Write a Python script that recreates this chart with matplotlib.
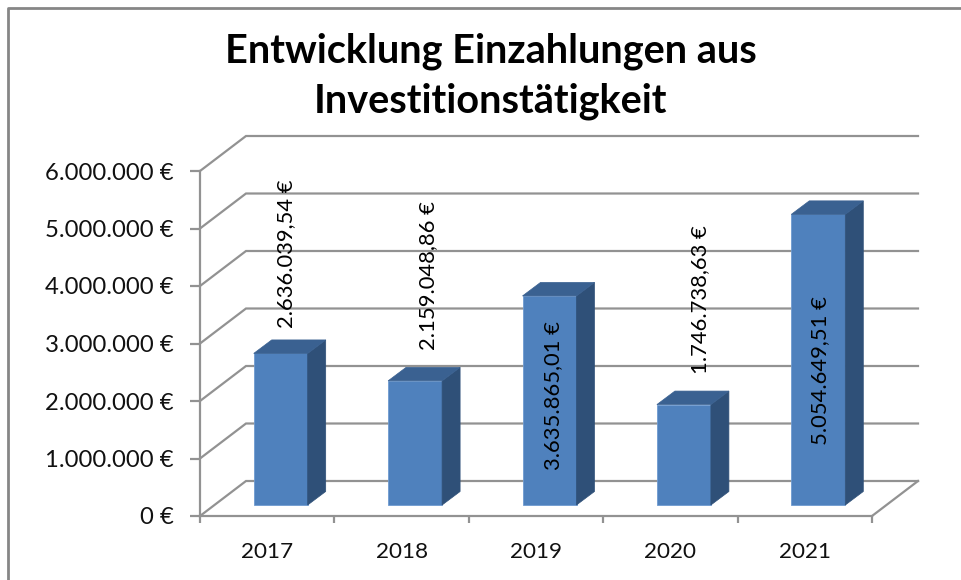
import matplotlib
matplotlib.use("Agg")
import matplotlib.pyplot as plt
from matplotlib.lines import Line2D
import numpy as np

# werte aus dem bild
jahre = ["2017", "2018", "2019", "2020", "2021"]
einzahlungen = [2636039.54, 2159048.86, 3635865.01, 1746738.63, 5054649.51]
bar_labels = ["2.636.039,54 €", "2.159.048,86 €", "3.635.865,01 €", "1.746.738,63 €", "5.054.649,51 €"]
y_ticks = [0, 1000000, 2000000, 3000000, 4000000, 5000000, 6000000]
y_tick_labels = ["0 €", "1.000.000 €", "2.000.000 €", "3.000.000 €", "4.000.000 €", "5.000.000 €", "6.000.000 €"]
titel = "Entwicklung Einzahlungen aus\nInvestitionstätigkeit"

plt.rcParams["font.family"] = ["Lato", "DejaVu Sans"]
grau = "#929292"

W, H = 962, 580
fig = plt.figure(figsize=(W / 100, H / 100), dpi=100)
ax = fig.add_axes([200 / W, (H - 516) / H, 672 / W, 345 / H])
ax.set_xlim(0, len(jahre))
ax.set_ylim(0, 6000000)
ax.patch.set_visible(False)

# 3d-versatz in datenwerten
px_x = len(jahre) / 672
px_y = 6000000 / 345
wand_dx, wand_dy = 46 * px_x, 35 * px_y
tiefe_dx, tiefe_dy = 18 * px_x, 13.5 * px_y
boden = 11 * px_y
breite = 54 * px_x

# rückwand und boden
for t in y_ticks:
    ax.plot([0, wand_dx, len(jahre) + wand_dx], [t, t + wand_dy, t + wand_dy],
            color=grau, lw=1.6, clip_on=False, zorder=1, solid_joinstyle="miter")
ax.plot([len(jahre), len(jahre) + wand_dx], [0, wand_dy], color=grau, lw=1.6, clip_on=False, zorder=1)

# balken
x = np.arange(len(jahre)) + 0.5 + 13.5 * px_x
werte = np.array(einzahlungen)
ax.bar(x, werte, breite, bottom=boden, color="#4f81bd", edgecolor="#6f9bd0", lw=0.6, zorder=3)
for xi, w in zip(x, werte):
    links, rechts = xi - breite / 2, xi + breite / 2
    oben = boden + w
    ax.fill([rechts, rechts + tiefe_dx, rechts + tiefe_dx, rechts],
            [boden, boden + tiefe_dy, oben + tiefe_dy, oben], color="#2f5078", lw=0.5, zorder=3, clip_on=False)
    ax.fill([links, links + tiefe_dx, rechts + tiefe_dx, rechts],
            [oben, oben + tiefe_dy, oben + tiefe_dy, oben], color="#3a6191", lw=0.5, zorder=3, clip_on=False)

# beschriftung der balken, versatz in pixel zur balkenoberkante
label_dx = [5, 13, 4, 16, 2]
label_dy = [100, 105, -100, 105, -156]
for xi, w, txt, dx, dy in zip(x, werte, bar_labels, label_dx, label_dy):
    ax.annotate(txt, (xi, boden + w), xytext=(dx * 0.72, dy * 0.72), textcoords="offset points",
                rotation=90, ha="center", va="center", fontsize=15.8, color="black", zorder=5)

ax.set_xticks(np.arange(len(jahre) + 1))
ax.set_xticklabels([])
ax.set_xticks(np.arange(len(jahre)) + 0.5, jahre, minor=True)
ax.set_yticks(y_ticks, y_tick_labels)
ax.tick_params(axis="x", which="major", length=5, width=1.6, color=grau)
ax.tick_params(axis="x", which="minor", length=0, pad=18.5, labelsize=16.2, labelcolor="#111111")
ax.tick_params(axis="y", length=7, width=1.6, color=grau, pad=12, labelsize=17.2, labelcolor="#111111")
for s in ["top", "right"]:
    ax.spines[s].set_visible(False)
for s in ["left", "bottom"]:
    ax.spines[s].set_color(grau)
    ax.spines[s].set_linewidth(1.6)

fig.text(491 / W, 1 - 76 / H, titel, ha="center", va="center", fontsize=28.5, fontweight="bold",
         linespacing=1.4, color="black")

# rahmen des diagramms, nur oben und links sichtbar
fig.add_artist(Line2D([8 / W, 8 / W, 1], [0, 1 - 8 / H, 1 - 8 / H], color="#868686", lw=2))

fig.savefig("out.png", dpi=100)
